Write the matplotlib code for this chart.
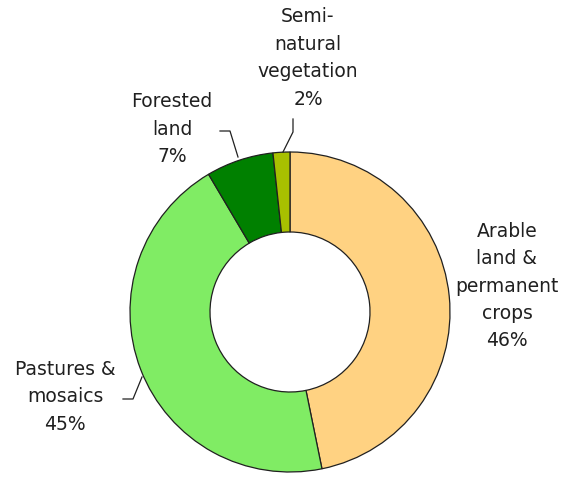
import matplotlib
matplotlib.use("Agg")
import matplotlib.pyplot as plt

# data
categories = ["Arable\nland &\npermanent\ncrops", "Pastures &\nmosaics", "Forested\nland", "Semi-\nnatural\nvegetation"]
shares = [46.8, 44.7, 6.8, 1.7]
pct_labels = ["46%", "45%", "7%", "2%"]
colors = ["#FFD282", "#80EC64", "#008000", "#A8C000"]

W, H = 566, 478
fig = plt.figure(figsize=(W / 100, H / 100), dpi=100)
ax = fig.add_axes([0, 0, 1, 1])

cx, cy, r = 290, H - 312, 160
ax.pie(shares, colors=colors, startangle=90, counterclock=False,
       center=(cx, cy), radius=r, frame=True,
       wedgeprops=dict(width=r * 0.5, edgecolor="#202020", linewidth=0.9))
ax.set_xlim(0, W)
ax.set_ylim(0, H)
ax.set_aspect("equal")
ax.axis("off")

# label positions (pixel, top-left origin) and leader lines
label_pos = [(507, 286), (65, 397), (172, 129), (308, 58)]
leaders = [None,
           [(142, 377), (133, 399), (123, 399)],
           [(238, 157), (230, 131), (220, 131)],
           [(283, 152), (293, 132), (293, 119)]]

for name, pct, (px, py), ld in zip(categories, pct_labels, label_pos, leaders):
    ax.text(px, H - py, f"{name}\n{pct}", ha="center", va="center",
            fontsize=13.5, color="#202020", linespacing=1.56,
            family="DejaVu Sans")
    if ld:
        xs = [p[0] for p in ld]
        ys = [H - p[1] for p in ld]
        ax.plot(xs, ys, color="#202020", lw=0.9)

fig.savefig("out.png", dpi=100)
